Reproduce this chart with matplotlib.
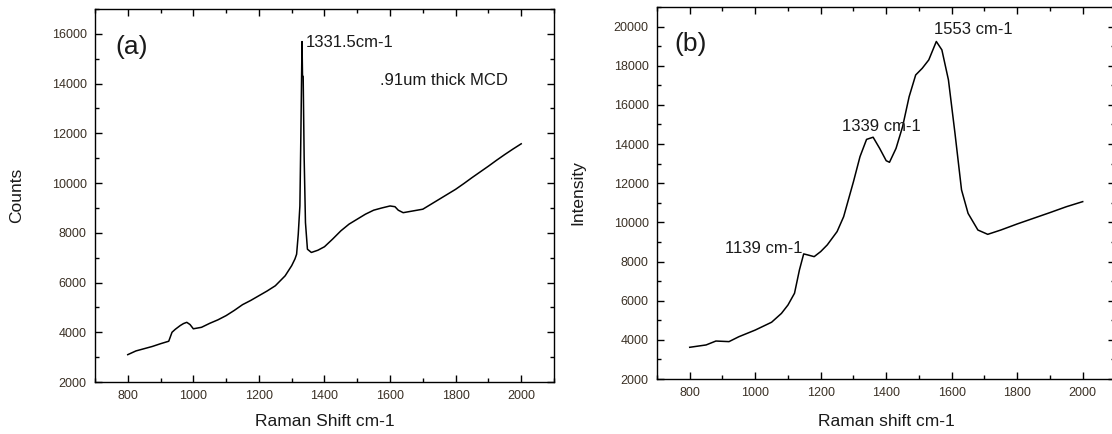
import matplotlib
matplotlib.use('Agg')
import matplotlib.pyplot as plt
from matplotlib.ticker import MultipleLocator

plt.rcParams['font.family'] = ['Liberation Sans', 'DejaVu Sans']

# panel (a): MCD film spectrum
shift_a = [800, 825, 850, 875, 900, 925, 935, 945, 960, 970, 980, 990, 1000,
           1025, 1050, 1075, 1100, 1125, 1150, 1175, 1200, 1225, 1250, 1280,
           1300, 1310, 1315, 1320, 1325, 1328, 1331.5, 1333, 1335, 1338, 1342,
           1348, 1360, 1380, 1400, 1425, 1450, 1475, 1500, 1525, 1550, 1575,
           1600, 1615, 1625, 1640, 1670, 1700, 1725, 1750, 1775, 1800, 1825,
           1850, 1875, 1900, 1925, 1950, 1975, 2000]
counts_a = [3100, 3250, 3340, 3430, 3540, 3640, 4000, 4120, 4270, 4350, 4400, 4310, 4140,
            4200, 4360, 4500, 4670, 4880, 5110, 5280, 5470, 5660, 5870, 6270,
            6680, 6950, 7140, 7940, 9080, 11950, 15690, 14300, 14290, 11020, 8410,
            7340, 7210, 7300, 7440, 7750, 8080, 8350, 8550, 8750, 8910, 9000,
            9080, 9050, 8910, 8810, 8880, 8950, 9150, 9350, 9550, 9750, 9980,
            10220, 10450, 10680, 10920, 11150, 11370, 11580]

# panel (b)
shift_b = [800, 825, 850, 880, 920, 950, 1000, 1050, 1080, 1100, 1120, 1135,
           1148, 1160, 1180, 1200, 1220, 1250, 1270, 1300, 1320, 1340, 1360,
           1380, 1400, 1410, 1430, 1450, 1470, 1490, 1510, 1530, 1553, 1570,
           1590, 1610, 1630, 1650, 1680, 1710, 1750, 1800, 1850, 1900, 1950, 2000]
intensity_b = [3620, 3680, 3740, 3940, 3910, 4160, 4500, 4900, 5350, 5780, 6380, 7570,
               8390, 8340, 8250, 8510, 8850, 9530, 10290, 12080, 13360, 14240, 14350,
               13780, 13150, 13070, 13780, 14890, 16420, 17530, 17870, 18300, 19240, 18810,
               17280, 14550, 11660, 10460, 9610, 9390, 9610, 9920, 10210, 10500, 10800, 11060]

fig = plt.figure(figsize=(11.12, 4.34), dpi=100)
ax1 = fig.add_axes([0.0854, 0.1198, 0.4128, 0.8594])
ax2 = fig.add_axes([0.5908, 0.1267, 0.4123, 0.8571])

txt = '#1a1a1a'
for ax in (ax1, ax2):
    ax.set_xlim(700, 2100)
    ax.xaxis.set_major_locator(MultipleLocator(200))
    ax.xaxis.set_minor_locator(MultipleLocator(100))
    ax.yaxis.set_major_locator(MultipleLocator(2000))
    ax.yaxis.set_minor_locator(MultipleLocator(1000))
    ax.tick_params(which='both', direction='in', top=True, right=True,
                   labelsize=9, labelcolor='#3a3025', width=1.0)
    ax.tick_params(which='major', length=5, pad=6)
    ax.tick_params(which='minor', length=3)
    for s in ax.spines.values():
        s.set_linewidth(1.0)

ax1.plot(shift_a, counts_a, color='black', lw=1.1)
ax1.set_ylim(2000, 17000)
ax1.text(763, 15480, '(a)', fontsize=19, va='center', ha='left', color=txt)
ax1.text(1342, 15640, '1331.5cm-1', fontsize=12, va='center', ha='left', color=txt)
ax1.text(1568, 14110, '.91um thick MCD', fontsize=12, va='center', ha='left', color=txt)

ax2.plot(shift_b, intensity_b, color='black', lw=1.1)
ax2.set_ylim(2000, 21000)
ax2.text(754, 19110, '(b)', fontsize=19, va='center', ha='left', color=txt)
ax2.text(1546, 19830, '1553 cm-1', fontsize=12, va='center', ha='left', color=txt)
ax2.text(1265, 14890, '1339 cm-1', fontsize=12, va='center', ha='left', color=txt)
ax2.text(909, 8680, '1139 cm-1', fontsize=12, va='center', ha='left', color=txt)

fig.text(17 / 1112, 1 - 195 / 434, 'Counts', rotation=90, ha='center', va='center',
         fontsize=12.5, color=txt)
fig.text(325 / 1112, 1 - 422 / 434, 'Raman Shift cm-1', ha='center', va='center',
         fontsize=12.5, color=txt)
fig.text(578 / 1112, 1 - 193 / 434, 'Intensity', rotation=90, ha='center', va='center',
         fontsize=12.5, color=txt)
fig.text(886 / 1112, 1 - 422 / 434, 'Raman shift cm-1', ha='center', va='center',
         fontsize=12.5, color=txt)

fig.savefig('out.png', dpi=100)
